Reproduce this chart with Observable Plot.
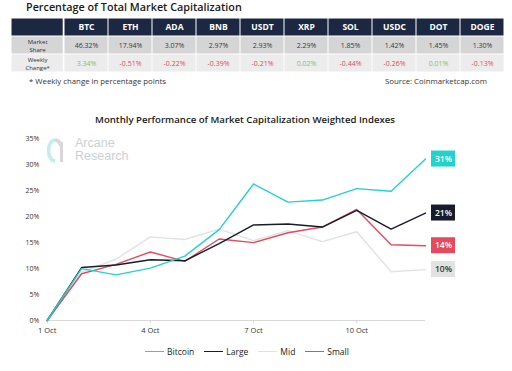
<!DOCTYPE html>
<html><head><meta charset="utf-8">
<script src="https://cdn.jsdelivr.net/npm/d3@7"></script>
<script src="https://cdn.jsdelivr.net/npm/@observablehq/plot@0.6"></script>
<style>
html,body{margin:0;padding:0;background:#fff;}
body{width:512px;height:371px;position:relative;overflow:hidden;font-family:"Open Sans",sans-serif;color:#222;}
.abs{position:absolute;white-space:nowrap;}
#legend{display:flex;gap:10px;align-items:center;justify-content:center;font-size:8.5px;color:#222;}
#legend .it{display:flex;align-items:center;gap:3px;}
#legend .sw{width:19px;height:1.6px;}
</style></head><body>
<div class="abs" style="left:26px;top:-1px;font-size:10.8px;font-weight:600;color:#1a1a1a;">Percentage of Total Market Capitalization</div>
<div id="table" class="abs" style="left:0;top:17px;"></div>
<div class="abs" style="left:29px;top:76px;font-size:7.8px;color:#333">* Weekly change in percentage points</div>
<div class="abs" style="right:25px;top:76px;font-size:7.8px;color:#333">Source: Coinmarketcap.com</div>
<div class="abs" style="left:0;width:490px;text-align:center;top:113px;font-size:9.6px;font-weight:600;color:#1a1a1a">Monthly Performance of Market Capitalization Weighted Indexes</div>
<div class="abs" style="left:46px;top:137px;"><svg width="20" height="27"><path d="M9 3 A6.5 10.5 0 0 0 9 24" fill="none" stroke="#c4ecec" stroke-width="3.6"/><path d="M9 3 A6.5 10.5 0 0 1 15 9" fill="none" stroke="#d8d8d8" stroke-width="3.6"/><rect x="14" y="5" width="3" height="20" fill="#d8d8d8"/></svg></div>
<div class="abs" style="left:75px;top:137px;font-family:'Liberation Sans',Arial,sans-serif;font-size:12.5px;line-height:13px;color:#cbd0d3">Arcane<br>Research</div>
<div id="chart" class="abs" style="left:0;top:130px"></div>
<div id="legend" class="abs" style="left:0;width:494px;top:346px;"></div>
<script>
// ---- Table data ----
const coins = ["BTC","ETH","ADA","BNB","USDT","XRP","SOL","USDC","DOT","DOGE"];
const marketShare = [46.32,17.94,3.07,2.97,2.93,2.29,1.85,1.42,1.45,1.30];
const weeklyChange = [3.34,-0.51,-0.22,-0.39,-0.21,0.02,-0.44,-0.26,0.01,-0.13];
const rowKeys = ["head","share","change"];
const rowLabels = ["", "Market\nShare", "Weekly\nChange*"];

// ---- Chart data ----
const days = [1,2,3,4,5,6,7,8,9,10,11,12];
const seriesNames = ["Bitcoin","Large","Mid","Small"];
const seriesColors = ["#22d2cf","#161c2b","#e2e2e2","#e64a5c"];
const bitcoin = [0,10.0,8.8,10.1,12.4,17.5,26.3,22.8,23.2,25.4,24.9,31.1];
const large   = [0,10.2,10.7,11.7,11.5,14.8,18.4,18.6,18.0,21.2,17.6,20.7];
const mid     = [0,9.3,11.8,16.1,15.6,17.6,15.4,17.3,15.2,17.1,9.4,9.8];
const small   = [0,9.0,10.8,13.2,11.4,15.7,15.0,16.9,18.0,21.4,14.6,14.4];
const yTicks = [0,5,10,15,20,25,30,35];
const xTicks = [1,4,7,10];

// ---- Table ----
const shareColor = ["#1c2842","#d5d5d5","#ececec"];
const tbl = Plot.plot({
  width:512, height:55, marginLeft:60, marginRight:4, marginTop:0, marginBottom:0,
  x:{domain:coins, padding:0, axis:null},
  y:{domain:rowKeys, padding:0, axis:null},
  color:{type:"identity"},
  style:{background:"transparent", fontFamily:"Open Sans"},
  marks:[
    Plot.cell(rowKeys, {x:()=>"BTC", y:d=>d, fill:(d,i)=>shareColor[i], insetLeft:-52.5, insetRight:45.3, insetTop:0.5, insetBottom:0.5}),
    Plot.text(rowKeys, {x:()=>"BTC", y:d=>d, text:(d,i)=>rowLabels[i], dx:-48.9, fontSize:6, lineHeight:1.4, fill:"#333"}),
    Plot.cell(coins, {x:d=>d, y:()=>"head", fill:shareColor[0], inset:0.5}),
    Plot.cell(coins, {x:d=>d, y:()=>"share", fill:shareColor[1], inset:0.5}),
    Plot.cell(coins, {x:d=>d, y:()=>"change", fill:shareColor[2], inset:0.5}),
    Plot.text(coins, {x:d=>d, y:()=>"head", text:d=>d, fill:"white", fontWeight:"bold", fontSize:8.5}),
    Plot.text(coins, {x:d=>d, y:()=>"share", text:(d,i)=>marketShare[i].toFixed(2)+"%", fill:"#3a3a3a", fontSize:7}),
    Plot.text(coins, {x:d=>d, y:()=>"change", text:(d,i)=>weeklyChange[i].toFixed(2)+"%", fill:(d,i)=>weeklyChange[i] >= 0 ? "#86c064" : "#e04a5c", fontSize:7})
  ]
});
document.getElementById("table").appendChild(tbl);

// ---- Chart ----
const seriesVals = [bitcoin, large, mid, small];
const rows = seriesNames.flatMap((n,k)=>days.map((d,i)=>({name:n, day:d, value:seriesVals[k][i]})));
const last = seriesNames.map((n,k)=>({name:n, day:days[days.length-1], value:seriesVals[k][days.length-1]}));
const drawOrder = ["Mid","Small","Large","Bitcoin"];
const chart = Plot.plot({
  width:512, height:210, marginLeft:46.7, marginRight:87, marginTop:8.3, marginBottom:20,
  x:{domain:[1,12]}, y:{domain:[0,35]},
  color:{domain:seriesNames, range:seriesColors},
  style:{background:"transparent", fontFamily:"Open Sans", color:"#333"},
  marks:[
    Plot.axisY({ticks:yTicks, tickFormat:d=>d+"%", tickSize:0, tickPadding:8, label:null, fontSize:7}),
    Plot.axisX({ticks:xTicks, tickFormat:d=>d+" Oct", tickSize:3, tickPadding:4, label:null, stroke:"#d4d4d4", fontSize:7.5, fill:"#333"}),
    Plot.ruleY([0], {stroke:"#d9d9d9"}),
    ...drawOrder.map(n=>Plot.line(rows.filter(r=>r.name===n), {x:"day", y:"value", stroke:"name", strokeWidth:1.4})),
    Plot.rect(last, {x1:"day", x2:"day", y1:"value", y2:"value", fill:"name", insetLeft:6, insetRight:-30, insetTop:-8, insetBottom:-8}),
    Plot.text(last.filter(d=>d.name!=="Mid"), {x:"day", y:"value", text:d=>Math.round(d.value)+"%", dx:18, fill:"white", fontSize:8.5, fontWeight:600}),
    Plot.text(last.filter(d=>d.name==="Mid"), {x:"day", y:"value", text:d=>Math.round(d.value)+"%", dx:18, fill:"#333", fontSize:8.5, fontWeight:600})
  ]
});
document.getElementById("chart").appendChild(chart);

// ---- Legend ----
const lg = document.getElementById("legend");
seriesNames.forEach((n,k)=>{
  const it = document.createElement("div"); it.className="it";
  const sw = document.createElement("div"); sw.className="sw"; sw.style.background = seriesColors[k];
  const tx = document.createElement("span"); tx.textContent = n;
  it.appendChild(sw); it.appendChild(tx); lg.appendChild(it);
});
</script>
</body></html>
